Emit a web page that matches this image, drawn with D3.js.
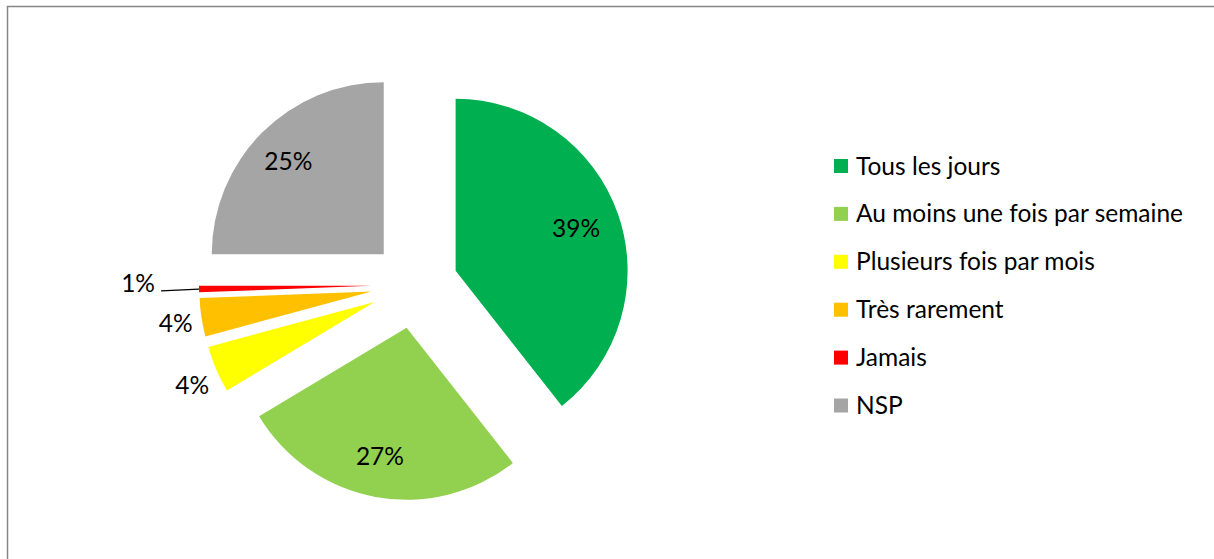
<!DOCTYPE html>
<html>
<head>
<meta charset="utf-8">
<script src="https://cdn.jsdelivr.net/npm/d3@7"></script>
<style>
  html, body { margin: 0; padding: 0; background: #fff; }
  svg { display: block; }
  text { font-family: Lato, "Open Sans", sans-serif; fill: #000; }
</style>
</head>
<body>
<svg id="chart" width="1214" height="559"></svg>
<script>
// ---- data ----
const categories = ["Tous les jours", "Au moins une fois par semaine", "Plusieurs fois par mois", "Très rarement", "Jamais", "NSP"];
const values = [39.4, 27.0, 4.4, 3.6, 0.6, 25.0];
const colors = ["#00B050", "#92D050", "#FFFF00", "#FFC000", "#FF0000", "#A5A5A5"];

// ---- layout ----
const W = 1214, H = 559;
const cx = 414.5, cy = 285, R = 172, explode = 43.5;
const fontSize = 24.5;

const svg = d3.select("#chart");
svg.append("rect").attr("x", 0).attr("y", 0).attr("width", W).attr("height", H).attr("fill", "#fff");
svg.append("rect").attr("x", 7.5).attr("y", 6.5).attr("width", W + 10).attr("height", H + 10)
  .attr("fill", "none").attr("stroke", "#868686").attr("stroke-width", 1.5);

const data = categories.map((c, i) => ({ name: c, value: values[i], color: colors[i] }));
const pie = d3.pie().sort(null).value(d => d.value).startAngle(0).endAngle(2 * Math.PI);
const arcs = pie(data);
const arc = d3.arc().innerRadius(0).outerRadius(R);

const g = svg.append("g").attr("transform", `translate(${cx},${cy})`);

function dir(a) { return [Math.sin(a), -Math.cos(a)]; }

arcs.forEach(a => {
  const mid = (a.startAngle + a.endAngle) / 2;
  const [dx, dy] = dir(mid);
  const ox = dx * explode, oy = dy * explode;
  g.append("path")
    .attr("d", arc(a))
    .attr("transform", `translate(${ox},${oy})`)
    .attr("fill", a.data.color);

  const label = Math.round(a.data.value) + "%";
  const ex = ox + dx * R, ey = oy + dy * R; // outer edge point on bisector
  if (a.data.value >= 10) {
    const d = 0.76 * R;
    g.append("text").attr("x", ox + dx * d - 3).attr("y", oy + dy * d)
      .attr("text-anchor", "middle").attr("dy", "0.35em")
      .attr("font-size", fontSize).text(label);
  } else if (a.data.value >= 1) {
    g.append("text").attr("x", ex + dx * 26).attr("y", ey + dy * 40)
      .attr("text-anchor", "middle").attr("dy", "0.35em")
      .attr("font-size", fontSize).text(label);
  } else {
    const lx = ex + dx * 38, ly = ey + dy * 38;
    g.append("line").attr("x1", ex).attr("y1", ey).attr("x2", lx).attr("y2", ly + 1)
      .attr("stroke", "#000").attr("stroke-width", 1.3);
    g.append("text").attr("x", lx - 23).attr("y", ly - 6)
      .attr("text-anchor", "middle").attr("dy", "0.35em")
      .attr("font-size", fontSize).text(label);
  }
});

// ---- legend ----
const legend = svg.append("g").attr("transform", "translate(834,166)");
const rowH = 47.9;
data.forEach((d, i) => {
  const row = legend.append("g").attr("transform", `translate(0,${i * rowH})`);
  row.append("rect").attr("x", 0).attr("y", -7).attr("width", 14).attr("height", 14).attr("fill", d.color);
  row.append("text").attr("x", 22).attr("y", 0).attr("dy", "0.35em")
    .attr("font-size", fontSize).text(d.name);
});
</script>
</body>
</html>
